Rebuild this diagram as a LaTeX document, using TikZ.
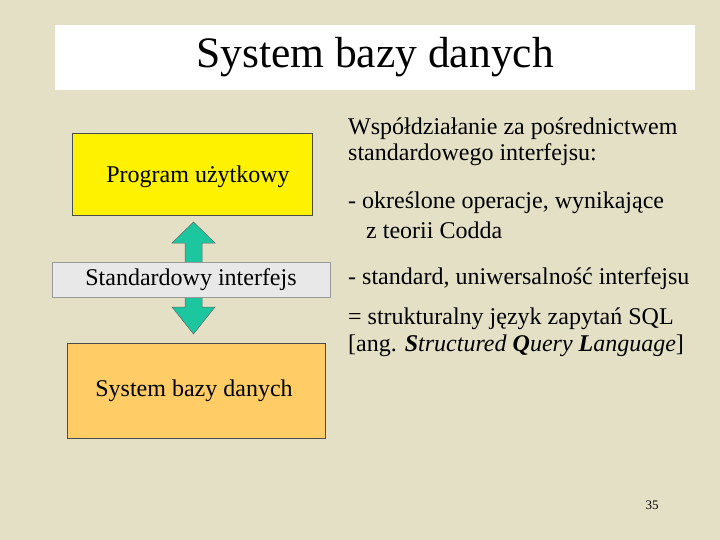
\documentclass[tikz,border=0pt]{standalone}
\usepackage{fontspec}
\setmainfont{Liberation Serif}
\definecolor{bg}{HTML}{E3E0C6}
\definecolor{arr}{HTML}{1CC69F}
\definecolor{org}{HTML}{FFCC66}
\definecolor{gry}{HTML}{E8E8E8}
\begin{document}
\begin{tikzpicture}[x=1pt,y=-1pt,
 box/.style={draw=black!70,line width=0.6pt,inner sep=0pt},
 txt/.style={anchor=west,inner sep=0pt,font=\fontsize{24}{28}\selectfont}]
\fill[bg] (0,0) rectangle (720,540);
\useasboundingbox (0,0) rectangle (720,540);
\node[fill=white,minimum width=640,minimum height=65,inner sep=0pt] (title) at (375,57.5) {\fontsize{43.5}{48}\selectfont System bazy danych};
\node[box,fill=yellow,minimum width=240,minimum height=82] (prog) at (192,174) {};
\node[txt,anchor=center] (progt) at (198,177) {Program użytkowy};
\node[box,fill=org,minimum width=258,minimum height=95] (sys) at (196,390.5) {};
\node[txt,anchor=center] (syst) at (194,391) {System bazy danych};
\draw[fill=arr,draw=black!60,line width=0.5pt] (193.5,222) -- (215,243) -- (202,243) -- (202,307) -- (215,307) -- (193.5,334) -- (172,307) -- (185,307) -- (185,243) -- (172,243) -- cycle;
\node[box,fill=gry,draw=black!40,minimum width=278,minimum height=35] (std) at (191,279.5) {};
\node[txt,anchor=center] (stdt) at (191,280) {Standardowy interfejs};
\node[txt] (r1) at (348,129) {Współdziałanie za pośrednictwem};
\node[txt] (r2) at (348,155) {standardowego interfejsu:};
\node[txt] (r3) at (348,203) {- określone operacje, wynikające};
\node[txt] (r4) at (348,230) {\ \ \ z teorii Codda};
\node[txt] (r5) at (348,279) {- standard, uniwersalność interfejsu};
\node[txt] (r6) at (348,319) {= strukturalny język zapytań SQL};
\node[txt] (r7) at (348,346) {[ang. \textbf{\textit{S}}\textit{tructured} \textbf{\textit{Q}}\textit{uery} \textbf{\textit{L}}\textit{anguage}]};
\node[inner sep=0pt,font=\fontsize{13}{14}\selectfont] (pg) at (652,505) {35};
\end{tikzpicture}
\end{document}
